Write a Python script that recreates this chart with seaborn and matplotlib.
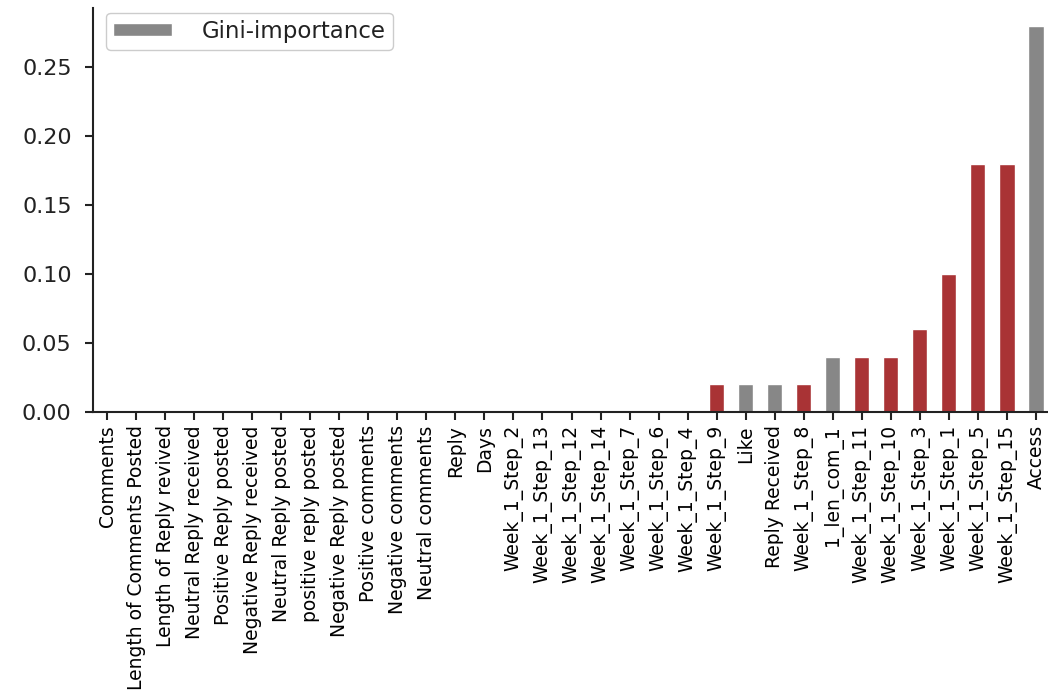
import matplotlib
matplotlib.use("Agg")
import matplotlib.pyplot as plt
from matplotlib.patches import Patch
import seaborn as sns

# Feature names, sorted by importance
features = [
    "Comments", "Length of Comments Posted", "Length of Reply revived",
    "Neutral Reply received", "Positive Reply posted", "Negative Reply received",
    "Neutral Reply posted", "positive reply posted", "Negative Reply posted",
    "Positive comments", "Negative comments", "Neutral comments",
    "Reply", "Days", "Week_1_Step_2", "Week_1_Step_13", "Week_1_Step_12",
    "Week_1_Step_14", "Week_1_Step_7", "Week_1_Step_6", "Week_1_Step_4",
    "Week_1_Step_9", "Like", "Reply Received", "Week_1_Step_8",
    "1_len_com_1", "Week_1_Step_11", "Week_1_Step_10", "Week_1_Step_3",
    "Week_1_Step_1", "Week_1_Step_5", "Week_1_Step_15", "Access",
]

# Gini importance of each feature
importance = [
    0.0, 0.0, 0.0, 0.0, 0.0, 0.0, 0.0, 0.0, 0.0, 0.0, 0.0, 0.0,
    0.0, 0.0, 0.0, 0.0, 0.0, 0.0, 0.0, 0.0, 0.0,
    0.02, 0.02, 0.02, 0.02,
    0.04, 0.04, 0.04, 0.06,
    0.10, 0.18, 0.18, 0.28,
]

# Feature group: "step" features drawn in red, the rest in grey
group = [
    "other", "other", "other", "other", "other", "other", "other", "other",
    "other", "other", "other", "other", "other", "other",
    "step", "step", "step", "step", "step", "step", "step",
    "step", "other", "other", "step",
    "other", "step", "step", "step",
    "step", "step", "step", "other",
]

GREY = "#878787"
RED = "#a93335"
colors = [RED if g == "step" else GREY for g in group]

sns.set_style("ticks")
plt.rcParams["font.family"] = ["DejaVu Sans"]

fig = plt.figure(figsize=(10.48, 6.97), dpi=100)
ax = fig.add_axes([0.0883, 0.4089, 0.9141, 0.5796])

sns.barplot(x=features, y=importance, hue=features, palette=colors,
            width=0.52, legend=False, ax=ax, saturation=1)

ax.set_ylim(0, 0.293)
ax.set_xlim(-0.5, len(features) - 0.5)
ax.set_yticks([0.0, 0.05, 0.10, 0.15, 0.20, 0.25])
ax.set_yticklabels(["0.00", "0.05", "0.10", "0.15", "0.20", "0.25"])
ax.tick_params(axis="y", labelsize=16, colors="#222222", length=6, width=1.5,
               pad=9)
ax.tick_params(axis="x", labelsize=13.5, colors="#222222", length=6, width=1.5,
               rotation=90)
for lab in ax.get_xticklabels():
    lab.set_color("black")
ax.set_xlabel("")
ax.set_ylabel("")

sns.despine(ax=ax, top=True, right=True)
for s in ("left", "bottom"):
    ax.spines[s].set_linewidth(1.5)
    ax.spines[s].set_color("#222222")

leg = ax.legend(handles=[Patch(facecolor=GREY, label="Gini-importance")],
                loc="upper left", fontsize=16.5, handlelength=2.6,
                handleheight=0.5, handletextpad=1.3, borderpad=0.3,
                borderaxespad=0, framealpha=1, edgecolor="#cccccc",
                bbox_to_anchor=(0.014, 0.988))
for t in leg.get_texts():
    t.set_color("#222222")

fig.savefig("out.png", dpi=100)
